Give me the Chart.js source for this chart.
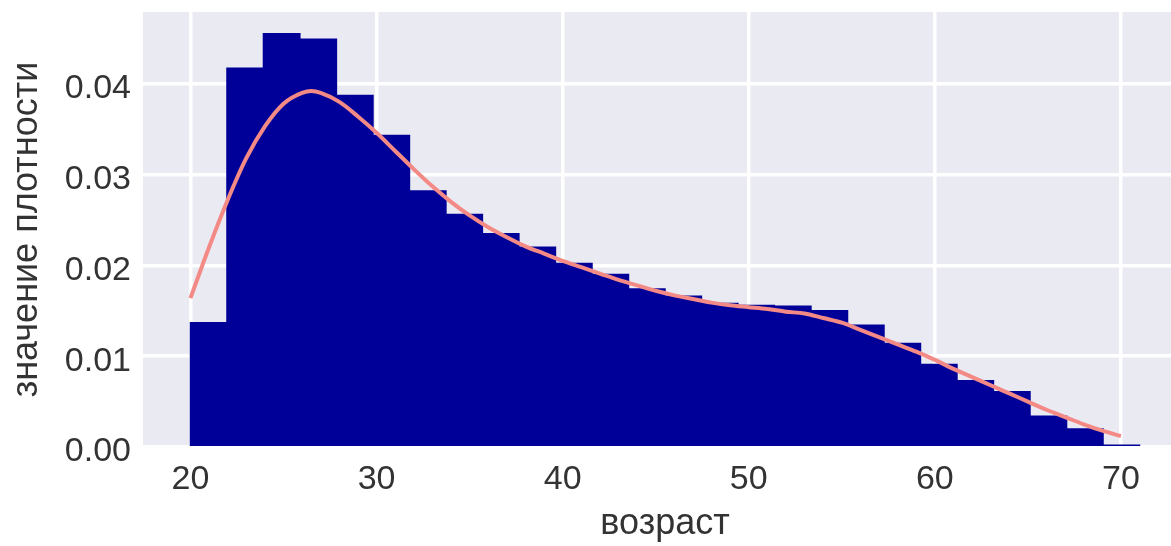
<!DOCTYPE html>
<html>
<head>
<meta charset="utf-8">
<script src="https://cdn.jsdelivr.net/npm/chart.js@4/dist/chart.umd.min.js"></script>
<style>
  html, body { margin: 0; padding: 0; background: #ffffff; }
  #clip { width: 1171px; height: 546px; overflow: hidden; position: relative; }
  #wrap { width: 1187px; height: 546px; position: absolute; left: 0; top: 0; }
</style>
</head>
<body>
<div id="clip"><div id="wrap"><canvas id="c"></canvas></div></div>
<script>
// ---- data ----
const binEdges = [20, 21.96, 23.92, 25.88, 27.85, 29.81, 31.77, 33.73, 35.69, 37.65, 39.62,
  41.58, 43.54, 45.5, 47.46, 49.42, 51.38, 53.35, 55.31, 57.27, 59.23, 61.19, 63.15,
  65.12, 67.08, 69.04, 71.0];
const density = [0.0137, 0.0417, 0.0455, 0.0449, 0.0387, 0.0343, 0.0282, 0.0256, 0.0235,
  0.0220, 0.0202, 0.0190, 0.0174, 0.0166, 0.0158, 0.0156, 0.0155, 0.0150, 0.0134,
  0.0114, 0.0091, 0.0073, 0.0061, 0.0034, 0.0020, 0.0002];
const kdeAge = [20, 21, 22, 23, 24, 25, 26, 26.5, 27, 28, 29, 30, 31, 32, 33, 34, 35, 36, 37,
  38, 39, 40, 41, 42, 43, 44, 45, 46, 47, 48, 49, 50, 51, 52, 53, 54, 55, 56, 57, 58, 59,
  60, 61, 62, 63, 64, 65, 66, 67, 68, 69, 70];
const kdeDensity = [0.0164, 0.0220, 0.0272, 0.0318, 0.0353, 0.0378, 0.0390, 0.0392, 0.0390,
  0.0380, 0.0364, 0.0346, 0.0326, 0.0306, 0.0287, 0.0270, 0.0255, 0.0242, 0.0231, 0.0221,
  0.0213, 0.0205, 0.0198, 0.0191, 0.0184, 0.0178, 0.0172, 0.0167, 0.0163, 0.0159, 0.0156,
  0.0154, 0.0152, 0.0149, 0.0147, 0.0142, 0.0137, 0.0129, 0.0121, 0.0113, 0.0105, 0.0096,
  0.0086, 0.0077, 0.0068, 0.0059, 0.0050, 0.0041, 0.0033, 0.0025, 0.0018, 0.0012];
const xTicks = [20, 30, 40, 50, 60, 70];
const yTicks = [0, 0.01, 0.02, 0.03, 0.04];
const xTitle = 'возраст';
const yTitle = 'значение плотности';

// ---- build datasets ----
const histPoints = density.map((v, i) => ({ x: (binEdges[i] + binEdges[i + 1]) / 2, y: v }));
const kdePoints = kdeAge.map((a, i) => ({ x: a, y: kdeDensity[i] }));

const TEXT = '#333333';
const FONT = 'Liberation Sans, Arial, sans-serif';

const bgPlugin = {
  id: 'bg',
  beforeDraw(chart) {
    const { ctx, chartArea: a } = chart;
    ctx.save();
    ctx.fillStyle = '#EAEAF2';
    ctx.fillRect(a.left, a.top, a.right - a.left, a.bottom - a.top);
    ctx.restore();
  }
};

new Chart(document.getElementById('c'), {
  data: {
    datasets: [
      {
        type: 'line',
        data: kdePoints,
        borderColor: '#F48A86',
        borderWidth: 4,
        pointRadius: 0,
        cubicInterpolationMode: 'monotone',
        order: 0
      },
      {
        type: 'bar',
        data: histPoints,
        backgroundColor: '#000099',
        borderWidth: 0,
        inflateAmount: 0.7,
        barPercentage: 1,
        categoryPercentage: 1,
        grouped: false,
        order: 1
      }
    ]
  },
  options: {
    responsive: true,
    maintainAspectRatio: false,
    animation: false,
    events: [],
    layout: { padding: { top: 12, right: 0, left: 0, bottom: 0 } },
    plugins: { legend: { display: false }, tooltip: { enabled: false } },
    scales: {
      x: {
        type: 'linear',
        offset: false,
        min: 17.45,
        max: 73.55,
        afterBuildTicks: (s) => { s.ticks = xTicks.map(v => ({ value: v })); },
        afterFit: (s) => { s.height = 99; s.paddingLeft = 0; s.paddingRight = 0; },
        grid: { color: '#ffffff', lineWidth: 3.5, drawTicks: false, offset: false },
        border: { display: false },
        ticks: { color: TEXT, font: { family: FONT, size: 34 }, padding: 12, maxRotation: 0,
                 callback: (v) => String(v) },
        title: { display: true, text: xTitle, color: TEXT, font: { family: FONT, size: 36 },
                 padding: { top: 0, bottom: 0 } }
      },
      y: {
        type: 'linear',
        min: 0,
        max: 0.0479,
        afterBuildTicks: (s) => { s.ticks = yTicks.map(v => ({ value: v })); },
        afterFit: (s) => { s.width = 143; s.paddingTop = 0; s.paddingBottom = 0; },
        grid: { color: '#ffffff', lineWidth: 3.5, drawTicks: false },
        border: { display: false },
        ticks: { color: TEXT, font: { family: FONT, size: 34 }, padding: 12, labelOffset: 5,
                 callback: (v) => Number(v).toFixed(2) },
        title: { display: true, text: yTitle, color: TEXT, font: { family: FONT, size: 36 },
                 padding: { top: 5, bottom: 0 } }
      }
    }
  },
  plugins: [bgPlugin]
});
</script>
</body>
</html>
